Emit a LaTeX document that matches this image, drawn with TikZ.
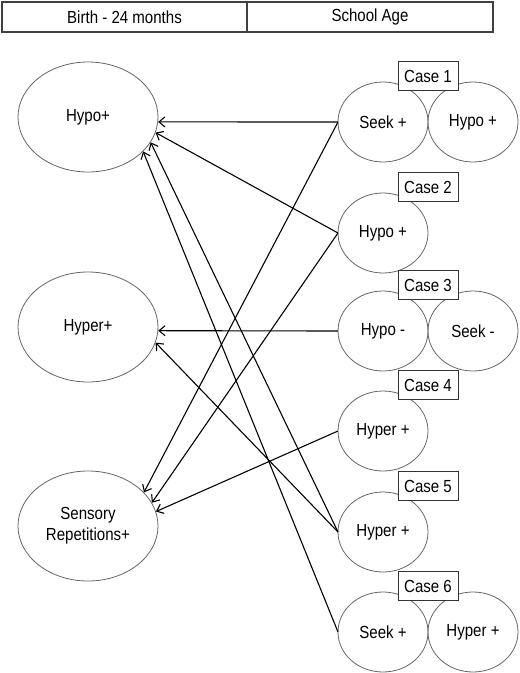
\documentclass[tikz,border=0pt]{standalone}
\usepackage{fontspec}
\setmainfont{Liberation Sans}[FakeStretch=0.86]
\usetikzlibrary{shapes.geometric, arrows.meta, positioning}

\begin{document}
\begin{tikzpicture}[
            x=1pt, y=1pt,
            font=\fontsize{17.5}{21}\selectfont,
            >={Straight Barb[length=6pt,width=10pt]},
            head/.style={rectangle, draw=black!75, line width=1.2pt, minimum height=30pt, outer sep=0pt},
            bigell/.style={ellipse, draw=black!60, line width=0.8pt, minimum width=140pt, minimum height=110pt, inner sep=0pt, align=center},
            smallell/.style={ellipse, draw=black!60, line width=0.8pt, minimum width=90pt, minimum height=80pt, inner sep=0pt, outer sep=0pt},
            casebox/.style={rectangle, draw=black!80, line width=1pt, fill=white, minimum width=60pt, minimum height=29pt, inner sep=0pt},
            link/.style={->, line width=1.1pt}
        ]
        \useasboundingbox (0,0) rectangle (520,-673);

        % Age header
        \node[head, minimum width=245pt] (birth) at (124.5,-17) {Birth - 24 months};
        \node[head, minimum width=246pt, right=0pt of birth] (school) {School Age};

        % Birth - 24 months
        \node[bigell] (hypo) at (88,-117) {Hypo+};
        \node[bigell] (hyper) at (88,-327) {Hyper+};
        \node[bigell] (sens) at (88,-526) {Sensory\\Repetitions+};

        % School age cases
        \node[smallell] (c1a) at (383,-122) {Seek +};
        \node[smallell, right=0pt of c1a] (c1b) {Hypo +};
        \node[smallell] (c2) at (383,-233) {Hypo +};
        \node[smallell] (c3a) at (383,-331) {Hypo -};
        \node[smallell, right=0pt of c3a] (c3b) {Seek -};
        \node[smallell] (c4) at (383,-431) {Hyper +};
        \node[smallell] (c5) at (383,-532) {Hyper +};
        \node[smallell] (c6a) at (383,-632) {Seek +};
        \node[smallell, right=0pt of c6a] (c6b) {Hyper +};

        \node[casebox, above=31pt of c1a.east] (case1) {Case 1};
        \node[casebox, above=31pt of c2.east] (case2) {Case 2};
        \node[casebox, above=31pt of c3a.east] (case3) {Case 3};
        \node[casebox, above=31pt of c4.east] (case4) {Case 4};
        \node[casebox, above=31pt of c5.east] (case5) {Case 5};
        \node[casebox, above=31pt of c6a.east] (case6) {Case 6};

        % Links back to infancy
        \draw[link] (c1a.west) -- (hypo.-4);
        \draw[link] (c1a.west) -- (sens.31);
        \draw[link] (c2.west) -- (hypo.-13);
        \draw[link] (c2.west) -- (sens.20);
        \draw[link] (c3a.west) -- (hyper.-3);
        \draw[link] (c4.west) -- (sens.12);
        \draw[link] (c5.west) -- (hyper.-13);
        \draw[link] (c5.west) -- (hypo.-22);
        \draw[link] (c6a.west) -- (hypo.-32);

    \end{tikzpicture}
\end{document}
